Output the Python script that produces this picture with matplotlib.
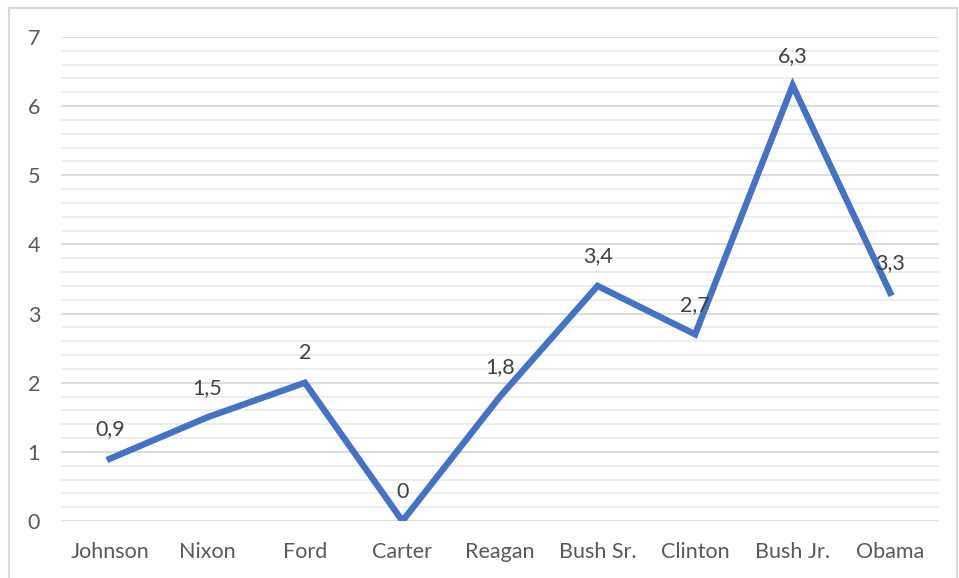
import matplotlib
matplotlib.use("Agg")
import matplotlib.pyplot as plt
from matplotlib.patches import Rectangle
from matplotlib.ticker import MultipleLocator

presidents = ["Johnson", "Nixon", "Ford", "Carter", "Reagan", "Bush Sr.", "Clinton", "Bush Jr.", "Obama"]
values = [0.9, 1.5, 2, 0, 1.8, 3.4, 2.7, 6.3, 3.3]
labels = ["0,9", "1,5", "2", "0", "1,8", "3,4", "2,7", "6,3", "3,3"]

plt.rcParams["font.family"] = ["Lato", "DejaVu Sans"]

W, H = 959, 578
fig = plt.figure(figsize=(W / 100, H / 100), dpi=100)
ax = fig.add_axes([61 / W, 1 - 521 / H, (939 - 61) / W, (521 - 37) / H])

# chart border (Excel style)
fig.patches.append(Rectangle((9 / W, -0.05), (957 - 9) / W, 1.05 - 8 / H,
                             transform=fig.transFigure, fill=False,
                             edgecolor="#d9d9d9", linewidth=1.5))

x = list(range(len(presidents)))
ax.plot(x, values, color="#4472C4", linewidth=4.6, solid_joinstyle="miter", zorder=3)

for xi, v, lab in zip(x, values, labels):
    ax.annotate(lab, (xi, v), xytext=(0, 14), textcoords="offset points",
                ha="center", va="bottom", fontsize=15.5, color="#404040", zorder=4)

ax.set_xlim(-0.5, len(presidents) - 0.5)
ax.set_ylim(0, 7)
ax.yaxis.set_major_locator(MultipleLocator(1))
ax.yaxis.set_minor_locator(MultipleLocator(0.2))
ax.grid(which="major", axis="y", color="#d9d9d9", linewidth=1.3)
ax.grid(which="minor", axis="y", color="#ececec", linewidth=1.3)
ax.set_axisbelow(True)

ax.set_xticks(x)
ax.set_xticklabels(presidents)
ax.tick_params(axis="both", which="both", length=0, labelsize=15.5, colors="#595959")
ax.tick_params(axis="x", pad=15)
ax.tick_params(axis="y", pad=15)
for s in ax.spines.values():
    s.set_visible(False)

fig.savefig("out.png", dpi=100)
